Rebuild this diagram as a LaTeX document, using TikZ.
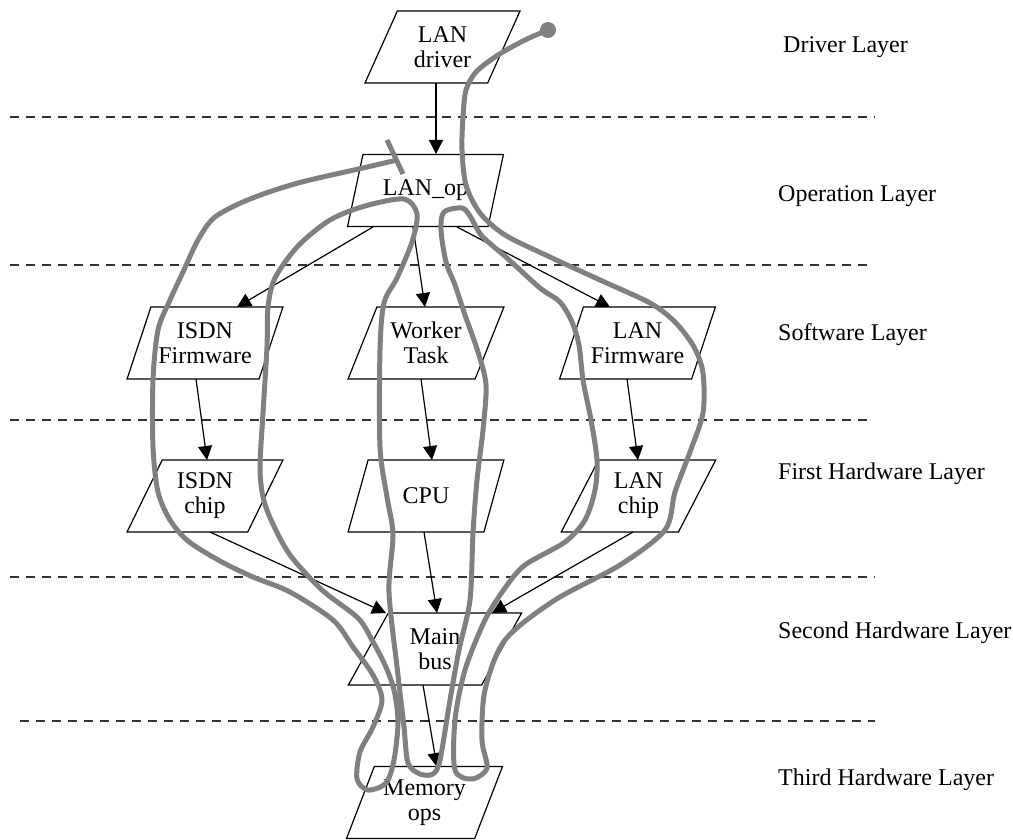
\documentclass[tikz,border=0pt]{standalone}
\usepackage{fontspec}
\setmainfont{Liberation Serif}
\usetikzlibrary{shapes.geometric,arrows.meta,calc}
\definecolor{traceGray}{RGB}{128,128,128}
\definecolor{sepGray}{RGB}{50,50,50}
\newcommand{\boxfont}{\fontsize{24}{25}\selectfont}
\begin{document}
\begin{tikzpicture}[x=1pt,y=-1pt,
  box/.style={trapezium, trapezium left angle=63.43, trapezium right angle=116.57,
    trapezium stretches=true, draw, line width=1.2pt, minimum width=156pt,
    minimum height=72pt, inner sep=0pt, align=center, font=\boxfont},
  widebox/.style={box, minimum width=174pt, trapezium left angle=62.2, trapezium right angle=117.8},
  flow/.style={line width=1.2pt, -{Triangle[length=14pt,width=14pt]}},
  layerline/.style={draw=sepGray, line width=1.2pt, dash pattern=on 9pt off 7pt},
  layername/.style={anchor=base west, font=\boxfont, inner sep=0pt},
  trace/.style={draw=traceGray, line width=5pt, line cap=round, line join=round}]
\useasboundingbox (0,0) rectangle (1013,840);

% layer separators
\draw[layerline] (10,117) -- (875,117);
\draw[layerline] (10,265) -- (870,265);
\draw[layerline] (10,420) -- (868,420);
\draw[layerline] (10,577) -- (875,577);
\draw[layerline] (20,721) -- (875,721);

% layer names
\node[layername] (lDrv) at (783,53) {Driver Layer};
\node[layername] (lOp) at (778,202) {Operation Layer};
\node[layername] (lSw) at (778,340) {Software Layer};
\node[layername] (lHw1) at (778,479) {First Hardware Layer};
\node[layername] (lHw2) at (778,638) {Second Hardware Layer};
\node[layername] (lHw3) at (778,785) {Third Hardware Layer};

% components
\node[box] (drv) at (442.5,47) {LAN\\driver};
\node[box] (op) at (425.5,190.5) {LAN\_op};
\node[box] (isdnfw) at (205,343) {ISDN\\Firmware};
\node[box] (worker) at (426,343) {Worker\\Task};
\node[box] (lanfw) at (637.5,343) {LAN\\Firmware};
\node[box] (isdnchip) at (205,496) {ISDN\\chip};
\node[box] (cpu) at (426,496) {CPU};
\node[box] (lanchip) at (638.5,496) {LAN\\chip};
\node[widebox] (bus) at (435,649) {Main\\bus};
\node[box] (mem) at (424.5,802.5) {Memory\\ops};

% calls between components
\draw[flow] ($(drv)+(-6.5,36)$) -- ($(op)+(10.5,-36.5)$);
\draw[flow] ($(op)+(-52.5,36.5)$) -- ($(isdnfw)+(32,-36)$);
\draw[flow] ($(op)+(-12.5,36.5)$) -- ($(worker)+(-1,-36)$);
\draw[flow] ($(op)+(31.5,36.5)$) -- ($(lanfw)+(-27.5,-36)$);
\draw[flow] ($(isdnfw)+(-9,36)$) -- ($(isdnchip)+(2,-36)$);
\draw[flow] ($(worker)+(-5,36)$) -- ($(cpu)+(6,-36)$);
\draw[flow] ($(lanfw)+(-10.5,36)$) -- ($(lanchip)+(-0.5,-36)$);
\draw[flow] ($(isdnchip)+(5,36)$) -- ($(bus)+(-49,-36)$);
\draw[flow] ($(cpu)+(-2,36)$) -- ($(bus)+(2,-36)$);
\draw[flow] ($(lanchip)+(-5.5,36)$) -- ($(bus)+(57,-36)$);
\draw[flow] ($(bus)+(-12,36)$) -- ($(mem)+(12.5,-35.5)$);

% execution trace
\draw[trace] plot[smooth, tension=0.5] coordinates {
 (548,30) (525,40) (498,55) (476,72) (466,90) (463,117) (462,150) (466,185)
 (480,213) (505,235) (550,257) (600,280) (650,303) (675,322) (694,347) (703,373)
 (703,413) (690,452) (675,492) (665,530) (620,565) (555,600) (505,640) (485,690)
 (482,740) (487,768) (472,779) (455,770) (455,720) (465,670) (485,620) (505,588)
 (525,565) (565,542) (585,520) (595,490) (597,460) (591,420) (583,380) (579,345)
 (572,322) (560,302) (540,288) (507,258) (482,236) (470,216) (462,208) (444,212)
 (441,230) (446,262) (455,285) (465,315) (478,352) (486,385) (483,430) (477,480)
 (473,533) (470,600) (459,650) (450,700) (440,760) (433,774) (420,774) (408,763)
 (404,727) (398,675) (389,592) (393,535) (387,497) (380,447) (380,350) (384,303)
 (397,278) (412,242) (417,214) (404,199) (365,206) (330,220) (298,246) (275,278)
 (268,307) (267,347) (263,413) (260,467) (263,497) (272,522) (290,555) (322,590)
 (358,618) (372,640) (385,665) (394,690) (398,722) (394,760) (386,783) (368,790)
 (357,779) (360,752) (373,727) (382,700) (373,675) (353,647) (333,620) (290,592)
 (253,577) (220,561) (188,541) (170,520) (158,492) (153,447) (153,380) (158,330)
 (170,300) (183,272) (198,240) (215,217) (250,199) (298,183) (363,168) (393,161)};
\fill[traceGray] (548,30) circle[radius=8pt];
\draw[trace, line cap=butt] (387,140) -- (403,174);
\end{tikzpicture}
\end{document}
